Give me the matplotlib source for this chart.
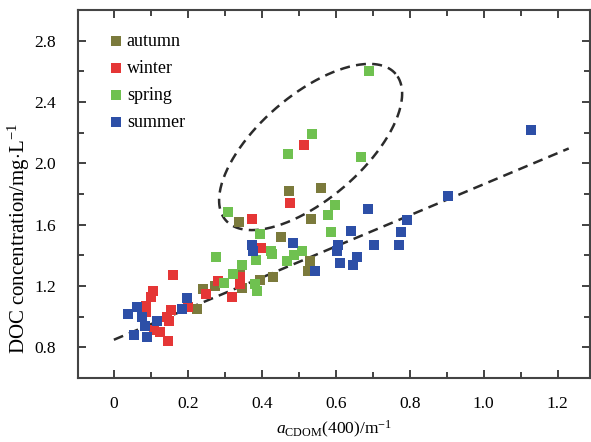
import numpy as np
import matplotlib.pyplot as plt

plt.rcParams['font.family'] = ['Liberation Serif', 'DejaVu Serif']
plt.rcParams['mathtext.fontset'] = 'custom'
plt.rcParams['mathtext.rm'] = 'Liberation Serif'
plt.rcParams['mathtext.it'] = 'Liberation Serif:italic'

# data, aCDOM(400) vs DOC per season
autumn_x = [0.473, 0.559, 0.338, 0.532, 0.451, 0.530, 0.524, 0.341, 0.395, 0.430, 0.273, 0.241, 0.346, 0.224]
autumn_y = [1.82, 1.84, 1.62, 1.64, 1.52, 1.36, 1.30, 1.28, 1.24, 1.26, 1.20, 1.18, 1.19, 1.05]

winter_x = [0.514, 0.476, 0.373, 0.397, 0.341, 0.341, 0.281, 0.249, 0.319, 0.200, 0.159,
            0.105, 0.100, 0.086, 0.086, 0.154, 0.143, 0.149, 0.108, 0.124, 0.146]
winter_y = [2.12, 1.74, 1.64, 1.45, 1.26, 1.21, 1.23, 1.15, 1.13, 1.06, 1.27,
            1.17, 1.13, 1.07, 1.03, 1.04, 1.00, 0.97, 0.91, 0.90, 0.84]

spring_x = [0.689, 0.535, 0.470, 0.668, 0.597, 0.578, 0.308, 0.586, 0.395, 0.384, 0.424,
            0.427, 0.486, 0.508, 0.468, 0.276, 0.346, 0.322, 0.297, 0.381, 0.386]
spring_y = [2.60, 2.19, 2.06, 2.04, 1.73, 1.66, 1.68, 1.55, 1.54, 1.37, 1.43,
            1.41, 1.40, 1.43, 1.36, 1.39, 1.34, 1.28, 1.22, 1.21, 1.17]

summer_x = [1.127, 0.903, 0.792, 0.686, 0.776, 0.770, 0.703, 0.641, 0.605, 0.603, 0.657, 0.611, 0.646,
            0.543, 0.484, 0.373, 0.376, 0.197, 0.184, 0.038, 0.062, 0.076, 0.116, 0.084, 0.054, 0.089]
summer_y = [2.22, 1.79, 1.63, 1.70, 1.55, 1.47, 1.47, 1.56, 1.47, 1.43, 1.39, 1.35, 1.34,
            1.30, 1.48, 1.47, 1.43, 1.12, 1.05, 1.02, 1.06, 1.00, 0.97, 0.94, 0.88, 0.87]

seasons = ['autumn', 'winter', 'spring', 'summer']
colors = ['#7b7a3c', '#e53636', '#6fc150', '#2d4fa7']

# fitted trend line and the dashed ellipse around the outliers
fit_slope, fit_icpt = 1.015, 0.849
fit_range = [0.0, 1.23]
ell_center = (0.532, 2.107)
ell_major = (0.230, 0.477)
ell_minor = (-0.0914, 0.258)

fig = plt.figure(figsize=(5.91, 4.42), dpi=100)
ax = fig.add_axes([0.132, 0.145, 0.866, 0.832])

xs = [autumn_x, winter_x, spring_x, summer_x]
ys = [autumn_y, winter_y, spring_y, summer_y]
for lab, c, x, y in zip(seasons, colors, xs, ys):
    ax.scatter(x, y, marker='s', s=42, color=c, label=lab, linewidths=0, zorder=3)

lx = np.array(fit_range)
ax.plot(lx, fit_slope * lx + fit_icpt, ls=(0, (4, 2.5)), lw=1.8, color='#2b2b2b', zorder=2)

t = np.linspace(0, 2 * np.pi, 300)
ex = ell_center[0] + np.cos(t) * ell_major[0] + np.sin(t) * ell_minor[0]
ey = ell_center[1] + np.cos(t) * ell_major[1] + np.sin(t) * ell_minor[1]
ax.plot(ex, ey, ls=(0, (4, 2.5)), lw=1.8, color='#2b2b2b', zorder=2)

ax.set_xlim(-0.097, 1.287)
ax.set_ylim(0.6, 3.0)
ax.set_xticks([0, 0.2, 0.4, 0.6, 0.8, 1.0, 1.2])
ax.set_xticklabels(['0', '0.2', '0.4', '0.6', '0.8', '1.0', '1.2'])
ax.set_xticks(np.arange(0.1, 1.3, 0.2), minor=True)
ax.set_yticks([0.8, 1.2, 1.6, 2.0, 2.4, 2.8])
ax.set_yticklabels(['0.8', '1.2', '1.6', '2.0', '2.4', '2.8'])
ax.set_yticks([1.0, 1.4, 1.8, 2.2, 2.6], minor=True)
ax.tick_params(which='both', direction='in', top=True, right=True, width=1.3, color='#333333', labelsize=12.5)
ax.tick_params(which='major', length=6)
ax.tick_params(which='minor', length=4)
ax.tick_params(axis='y', pad=16)
ax.tick_params(axis='x', pad=13)
for sp in ax.spines.values():
    sp.set_linewidth(1.5)
    sp.set_color('#444444')

ax.set_xlabel(r'$a_{\mathrm{CDOM}}$(400)/m$^{-1}$', fontsize=12.5, labelpad=5)
ax.set_ylabel(r'DOC concentration/mg$\cdot$L$^{-1}$', fontsize=15)
ax.yaxis.set_label_coords(-0.09, 0.38)

ax.legend(loc='upper left', bbox_to_anchor=(0.03, 0.982), frameon=False, fontsize=13,
          handlelength=0.7, handletextpad=0.25, labelspacing=0.55, markerscale=1.0)

fig.savefig('out.png', dpi=100)
